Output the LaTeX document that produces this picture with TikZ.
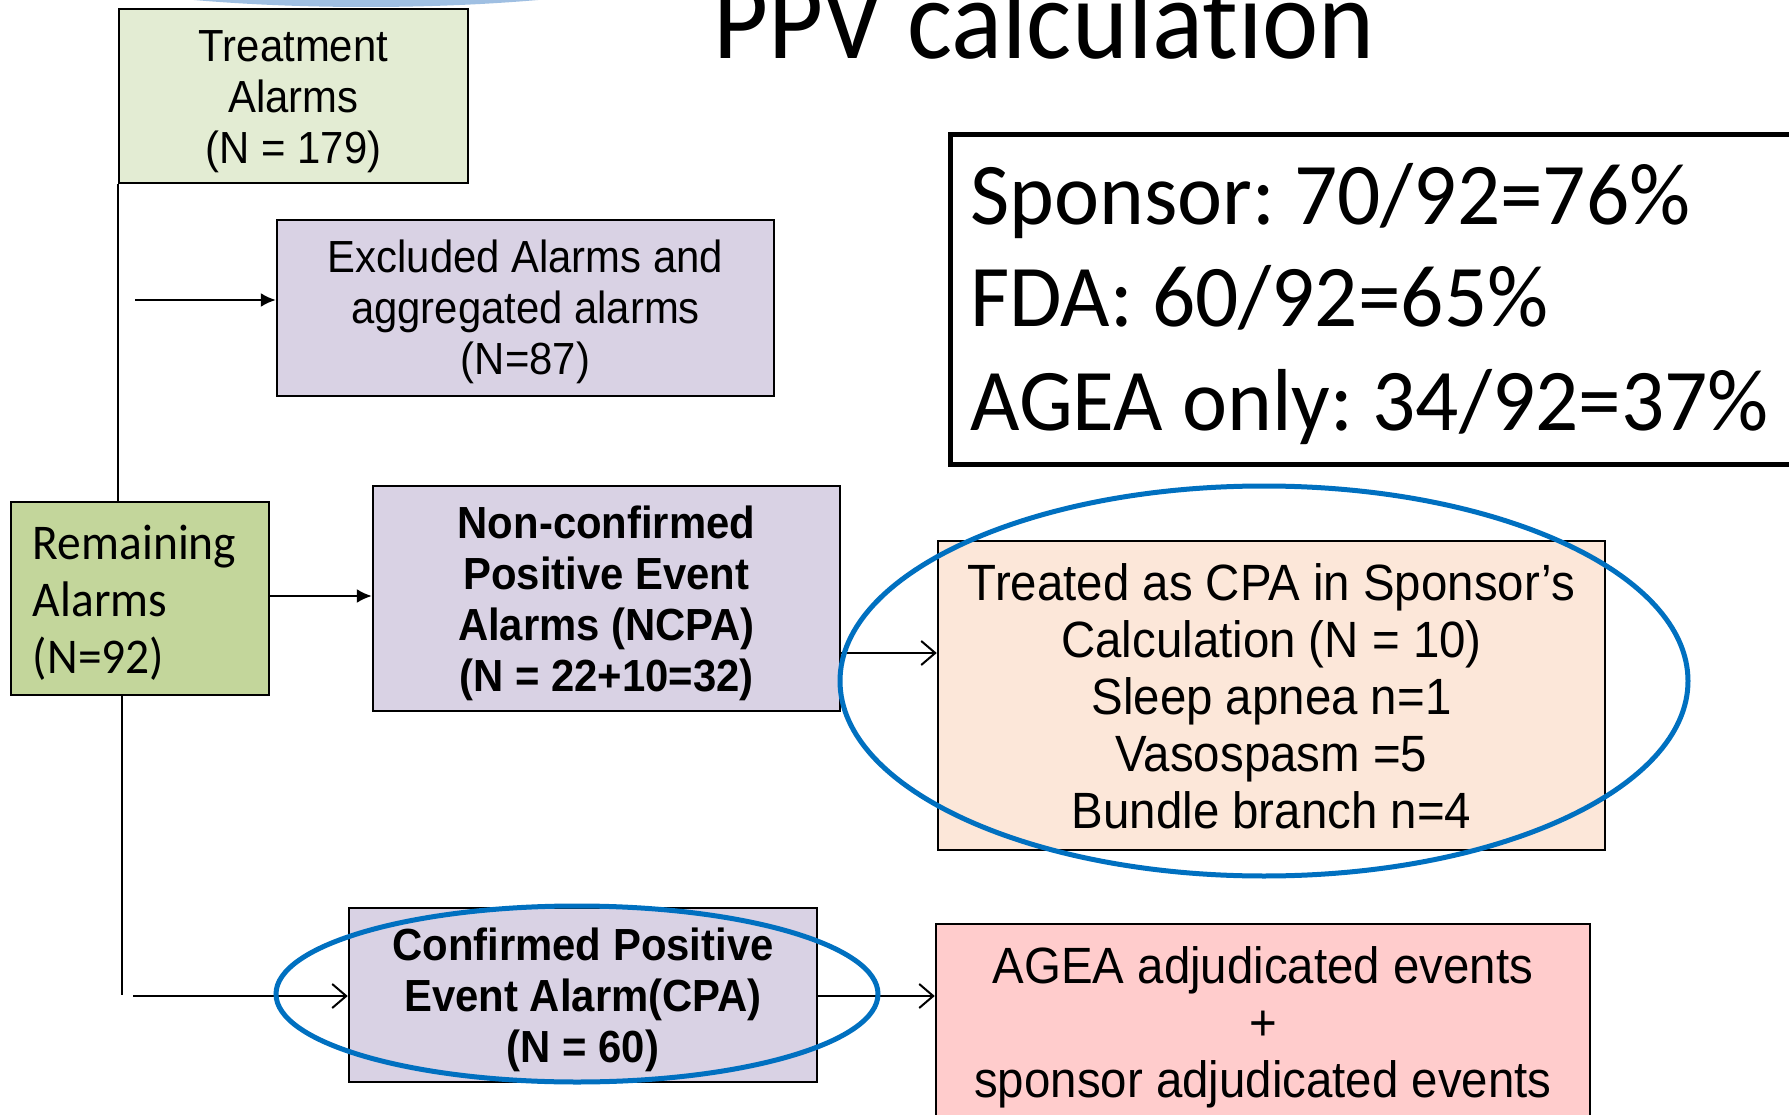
\documentclass[tikz,border=0pt]{standalone}
\usepackage{fontspec}
\setmainfont{Liberation Sans}[FakeStretch=0.93]
\newfontfamily\calib{Carlito}[FakeStretch=0.95,Ligatures=NoCommon]
\newfontfamily\calibt{Carlito}[FakeStretch=0.935,Ligatures=NoCommon]
\newfontfamily\calibw{Carlito}[FakeStretch=0.97,Ligatures=NoCommon]
\usetikzlibrary{arrows.meta}
\definecolor{tgreen}{HTML}{E3ECD3}
\definecolor{rgreen}{HTML}{C3D69B}
\definecolor{lav}{HTML}{D9D2E4}
\definecolor{peach}{HTML}{FCE7D9}
\definecolor{pinkbox}{HTML}{FFCCCC}
\definecolor{ringblue}{HTML}{0070C0}
\definecolor{topblue}{HTML}{9FBFE2}
\tikzset{
  box/.style={draw=black, line width=2.5pt, rectangle, inner sep=0pt},
  txt/.style={align=center, inner sep=0pt},
  fsmall/.style={font=\fontsize{45}{51}\selectfont},
  fbold/.style={font=\fontsize{45}{51}\selectfont\bfseries},
  fbig/.style={font=\fontsize{51}{57}\selectfont},
  fill arrow/.style={line width=2pt, -{Latex[length=15pt,width=14pt]}},
  open arrow/.style={line width=2pt, -{Straight Barb[length=14pt,width=24pt,line width=2pt]}},
  plain line/.style={line width=2pt},
  ring/.style={draw=ringblue, line width=5pt},
  sponsortext/.style={anchor=base west, inner sep=0pt, font=\calibw\fontsize{88}{100}\selectfont}
}
\begin{document}
\frenchspacing
\begin{tikzpicture}[x=1pt,y=-1pt]
\useasboundingbox (0,0) rectangle (1789,1115);
\clip (0,0) rectangle (1789,1115);
\fill[white] (0,0) rectangle (1789,1115);
% top decorative arc
\shade[inner color=topblue!85, outer color=topblue] (366,-73) ellipse [x radius=420, y radius=80];
% title
\node[anchor=base, inner sep=0pt, font=\calibt\fontsize{114}{120}\selectfont] (title) at (1044,59) {PPV calculation};
% boxes
\node[box, fill=tgreen, minimum width=349pt, minimum height=174pt] (treat) at (293.5,96) {};
\node[txt, fsmall] (treatT) at ([yshift=-6pt]treat.center) {Treatment\\Alarms\\(N = 179)};
\node[box, fill=lav, minimum width=497pt, minimum height=176pt] (excl) at (525.5,308) {};
\node[txt, fsmall] (exclT) at ([yshift=-4pt]excl.center) {Excluded Alarms and\\aggregated alarms\\(N=87)};
\node[box, fill=rgreen, minimum width=258pt, minimum height=193pt] (rem) at (140,598.5) {};
\node[anchor=west, align=left, inner sep=0pt, font=\calib\fontsize{50}{57}\selectfont] (remT) at ([xshift=23pt,yshift=-4pt]rem.west) {Remaining\\Alarms\\(N=92)};
\node[box, fill=lav, minimum width=467pt, minimum height=225pt] (ncpa) at (606.5,598.5) {};
\node[txt, fbold] (ncpaT) at ([yshift=-5pt]ncpa.center) {Non-confirmed\\Positive Event\\Alarms (NCPA)\\(N = 22+10=32)};
\node[box, fill=peach, minimum width=667pt, minimum height=309pt] (tr) at (1271.5,695.5) {};
\node[txt, fbig] (trT) at ([yshift=-1pt]tr.center) {Treated as CPA in Sponsor’s\\Calculation (N = 10)\\Sleep apnea n=1\\Vasospasm =5\\Bundle branch n=4};
\node[box, fill=lav, minimum width=468pt, minimum height=174pt] (cpa) at (583,995) {};
\node[txt, fbold] (cpaT) at ([yshift=-5pt]cpa.center) {Confirmed Positive\\Event Alarm(CPA)\\(N = 60)};
\node[box, fill=pinkbox, minimum width=654pt, minimum height=196pt] (agea) at (1263,1022) {};
\node[txt, fbig] (ageaT) at ([yshift=-5pt]agea.center) {AGEA adjudicated events\\+\\sponsor adjudicated events};
% sponsor box
\node[draw=black, line width=5pt, anchor=north west, minimum width=870pt, minimum height=330pt, inner sep=0pt] (spon) at (948,132) {};
\node[sponsortext] (s1) at (970,225) {Sponsor: 70/92=76\%};
\node[sponsortext] (s2) at (970,327) {FDA: 60/92=65\%};
\node[sponsortext] (s3) at (970,430) {AGEA only: 34/92=37\%};
% connectors
\coordinate (a1) at (135,300);
\coordinate (a2) at (840,653);
\coordinate (b1) at (122,995);
\coordinate (b2) at (133,996);
\draw[plain line] (treat.south west) -- (treat.south west |- rem.north);
\draw[fill arrow] (a1) -- (a1 -| excl.west);
\draw[fill arrow] (rem.east |- 0,596) -- (ncpa.west |- 0,596);
\draw[open arrow] (a2) -- (a2 -| tr.west);
\draw[plain line] (rem.south -| b1) -- (b1);
\draw[open arrow] (b2) -- (b2 -| cpa.west);
\draw[open arrow] (cpa.east |- b2) -- (agea.west |- b2);
% rings
\draw[ring] (1264,681) ellipse [x radius=424, y radius=195];
\draw[ring] (577,994) ellipse [x radius=301, y radius=88];
\end{tikzpicture}
\end{document}
